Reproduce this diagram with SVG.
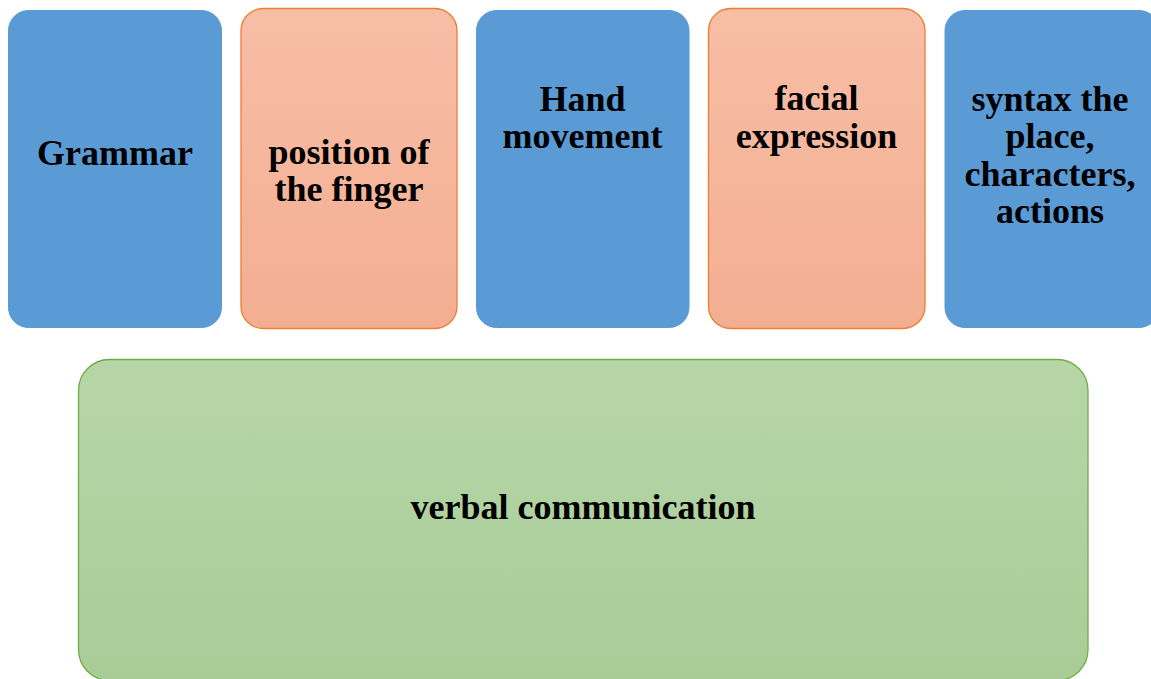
<svg xmlns="http://www.w3.org/2000/svg" width="1151" height="679" viewBox="0 0 1151 679">
<style>
.blue{fill:#5B9BD5;stroke:#5B9BD5;stroke-width:1}
.orange{fill:url(#gOr);stroke:#ED7D31;stroke-width:1.3}
.green{fill:url(#gGr);stroke:#70AD47;stroke-width:1.3}
text{font-family:"Liberation Serif","Times New Roman",serif;font-weight:bold;font-size:36px;fill:#000;text-anchor:middle}
</style>
<defs>
<linearGradient id="gOr" x1="0" y1="0" x2="0" y2="1"><stop offset="0" stop-color="#F7BEA6"/><stop offset="1" stop-color="#F3AE91"/></linearGradient>
<linearGradient id="gGr" x1="0" y1="0" x2="0" y2="1"><stop offset="0" stop-color="#B6D6A8"/><stop offset="1" stop-color="#A9CC97"/></linearGradient>
</defs>
<rect width="1151" height="679" fill="#FFFFFF"/>
<g id="connectors"/>
<g id="grammar"><rect class="blue" x="8.5" y="10.5" width="213" height="317" rx="20"/><text x="115" y="165">Grammar</text></g>
<g id="finger"><rect class="orange" x="241" y="8.5" width="216" height="320" rx="22"/><text x="349" y="164">position of</text><text x="349" y="201">the finger</text></g>
<g id="hand"><rect class="blue" x="476.5" y="10.5" width="212.5" height="317" rx="20"/><text x="582.5" y="111">Hand</text><text x="582.5" y="148">movement</text></g>
<g id="facial"><rect class="orange" x="708.5" y="8.5" width="216.5" height="320" rx="22"/><text x="816.5" y="110">facial</text><text x="816.5" y="148">expression</text></g>
<g id="syntax"><rect class="blue" x="945" y="10.5" width="214" height="317" rx="20"/><text x="1050" y="111">syntax the</text><text x="1050" y="148">place,</text><text x="1050" y="186">characters,</text><text x="1050" y="223">actions</text></g>
<g id="verbal"><rect class="green" x="78.5" y="359.5" width="1009.5" height="321" rx="31"/><text x="583" y="519">verbal communication</text></g>
</svg>
